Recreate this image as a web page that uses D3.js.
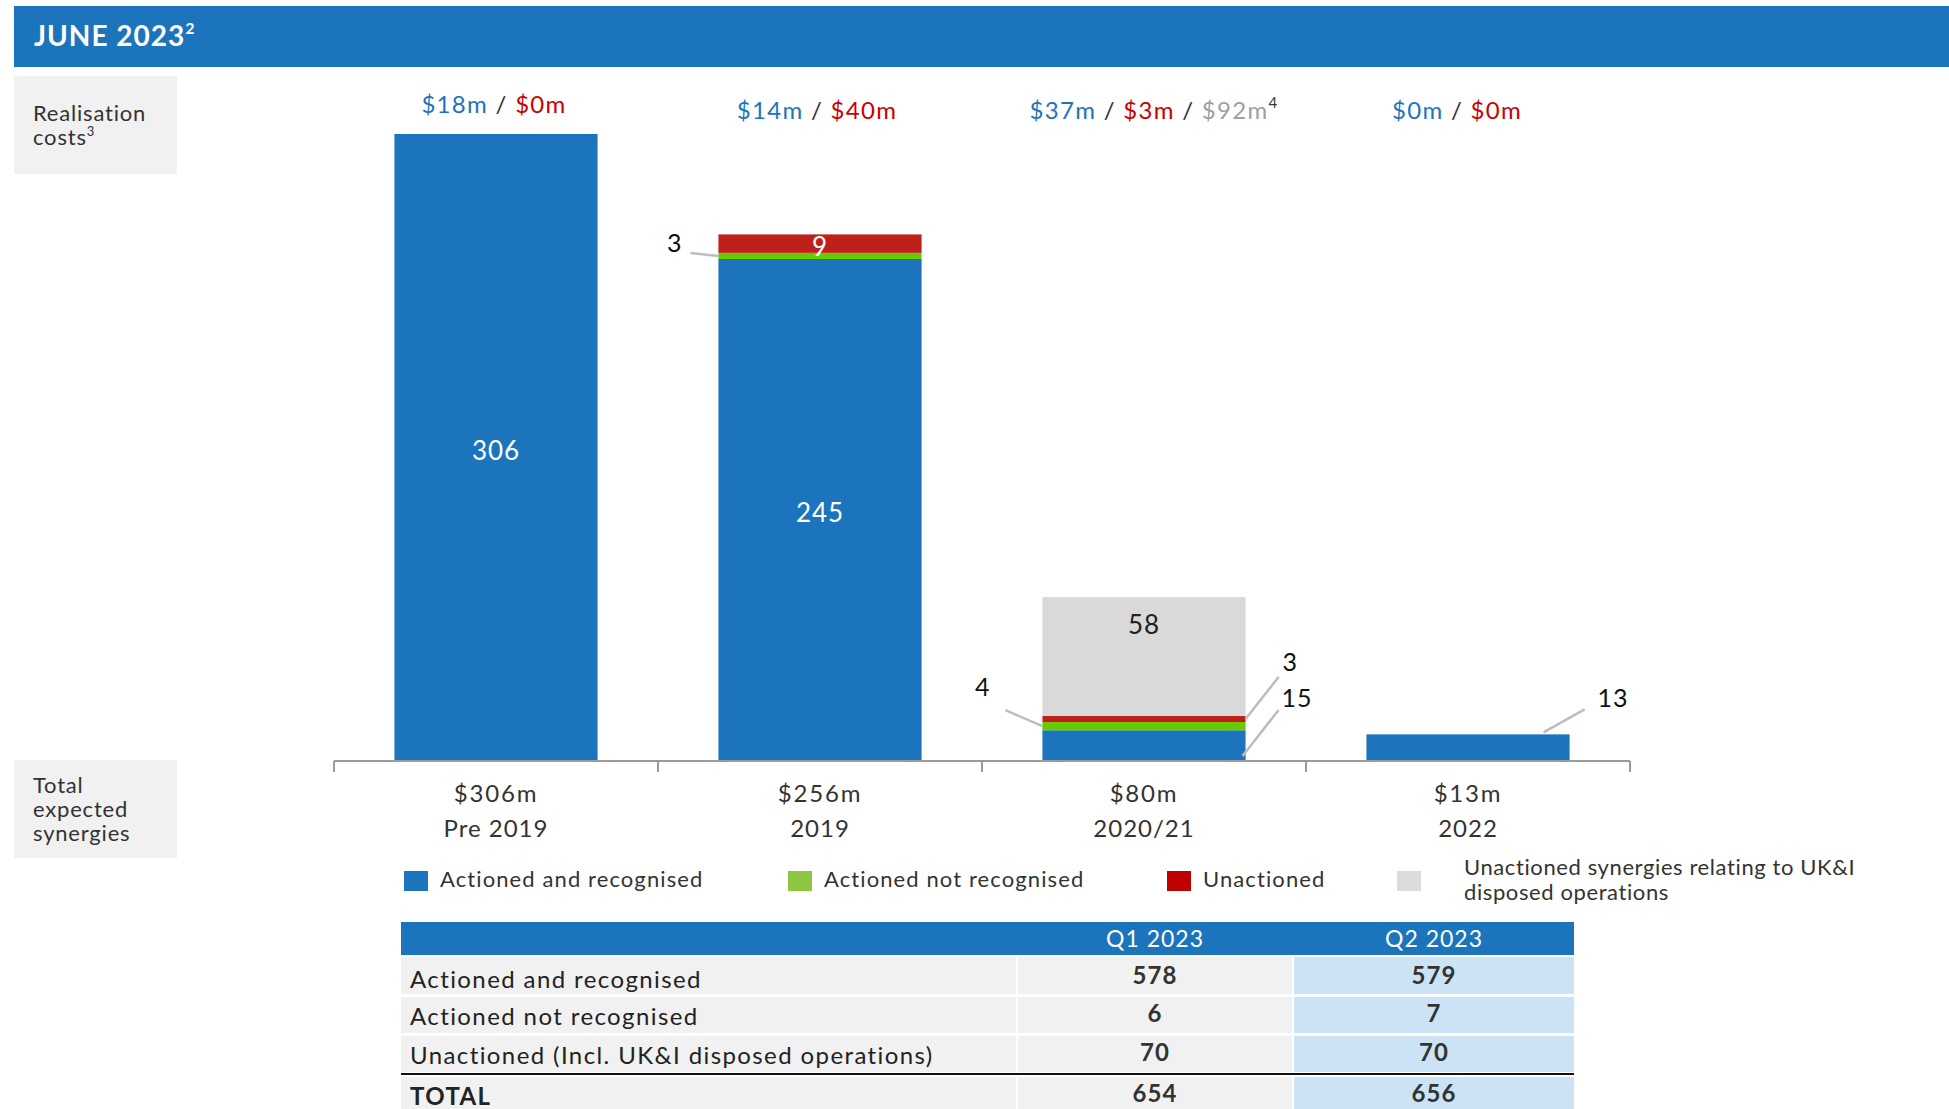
<!DOCTYPE html>
<html>
<head>
<meta charset="utf-8">
<script src="https://cdn.jsdelivr.net/npm/d3@7"></script>
<style>
  body { margin: 0; background: #fff; }
  svg { display: block; font-family: Lato, "Open Sans", sans-serif; }
</style>
</head>
<body>
<svg id="chart" width="1949" height="1109"></svg>
<script>
// Synergy delivery by acquisition vintage ($m)
const categories = ["Pre 2019", "2019", "2020/21", "2022"];
const totalLabels = ["$306m", "$256m", "$80m", "$13m"];
const actionedRecognised = [306, 245, 15, 13];
const actionedNotRecognised = [0, 3, 4, 0];
const unactioned = [0, 9, 3, 0];
const unactionedDisposed = [0, 0, 58, 0];

// Realisation costs shown above each bar
const costsActioned = ["$18m", "$14m", "$37m", "$0m"];
const costsUnactioned = ["$0m", "$40m", "$3m", "$0m"];
const costsDisposed = [null, null, "$92m", null];

// Summary table
const quarters = ["Q1 2023", "Q2 2023"];
const tableRows = ["Actioned and recognised", "Actioned not recognised", "Unactioned (Incl. UK&I disposed operations)", "TOTAL"];
const q1Values = [578, 6, 70, 654];
const q2Values = [579, 7, 70, 656];

const seriesKeys = ["recognised", "notRecognised", "unactioned", "disposed"];
const seriesNames = ["Actioned and recognised", "Actioned not recognised", "Unactioned", "Unactioned synergies relating to UK&I disposed operations"];
const barColors = { recognised: "#1c75bc", notRecognised: "#66cc00", unactioned: "#c0201a", disposed: "#d9d9d9" };
const legendColors = ["#1c75bc", "#8dc63f", "#c00000", "#dcdcdc"];

const BLUE = "#1c75bc", RED = "#cc0000", GREY_TXT = "#a0a0a0", DARK = "#333";

const rows = categories.map((c, i) => ({
  category: c,
  recognised: actionedRecognised[i],
  notRecognised: actionedNotRecognised[i],
  unactioned: unactioned[i],
  disposed: unactionedDisposed[i]
}));

const svg = d3.select("#chart");

// Header band
svg.append("rect").attr("x", 14).attr("y", 6).attr("width", 1935).attr("height", 61).attr("fill", BLUE);
const title = svg.append("text").attr("x", 34).attr("y", 46).attr("fill", "#fff")
  .attr("font-size", 28).attr("font-weight", 700).attr("letter-spacing", 1);
title.append("tspan").text("JUNE 2023");
title.append("tspan").attr("font-size", 16).attr("dy", -12).text("2");

// Side boxes
function sideBox(y, lines, sup) {
  svg.append("rect").attr("x", 14).attr("y", y).attr("width", 163).attr("height", 98).attr("fill", "#f1f1f1");
  lines.forEach((l, i) => {
    const t = svg.append("text").attr("x", 33).attr("y", y + 45 + i * 24 - (lines.length - 2) * 12)
      .attr("font-size", 22).attr("letter-spacing", 0.8).attr("fill", DARK);
    t.append("tspan").text(l);
    if (sup && i === lines.length - 1) t.append("tspan").attr("font-size", 13).attr("dy", -9).text(sup);
  });
}
sideBox(76, ["Realisation", "costs"], "3");
sideBox(760, ["Total", "expected", "synergies"], null);

// Scales
const x = d3.scaleBand().domain(categories).range([334, 1630]).paddingInner(0.373).paddingOuter(0.1865);
const y = d3.scaleLinear().domain([0, 306]).range([761, 134]);

const stacked = d3.stack().keys(seriesKeys)(rows);

// Bars
svg.append("g").selectAll("g").data(stacked).join("g")
  .attr("fill", d => barColors[d.key])
  .selectAll("rect").data(d => d).join("rect")
  .attr("x", d => x(d.data.category))
  .attr("width", x.bandwidth())
  .attr("y", d => y(d[1]))
  .attr("height", d => y(d[0]) - y(d[1]));

// Axis line with boundary ticks
const boundaries = categories.map(c => x(c) + x.bandwidth() / 2 - x.step() / 2).concat([x.range()[1]]);
const axisG = svg.append("g").attr("stroke", "#9a9a9a").attr("stroke-width", 2);
axisG.append("line").attr("x1", x.range()[0]).attr("x2", x.range()[1]).attr("y1", y(0)).attr("y2", y(0));
axisG.selectAll("line.tick").data(boundaries).join("line").attr("class", "tick")
  .attr("x1", d => d).attr("x2", d => d).attr("y1", y(0)).attr("y2", y(0) + 11);

// Category labels
const cx = c => x(c) + x.bandwidth() / 2;
categories.forEach((c, i) => {
  svg.append("text").attr("x", cx(c)).attr("y", y(0) + 41).attr("text-anchor", "middle")
    .attr("font-size", 24).attr("letter-spacing", 1.8).attr("fill", DARK).text(totalLabels[i]);
  svg.append("text").attr("x", cx(c)).attr("y", y(0) + 76).attr("text-anchor", "middle")
    .attr("font-size", 24).attr("letter-spacing", 1).attr("fill", DARK).text(c);
});

// In-bar value labels
const inside = [
  { i: 0, key: "recognised", color: "#fff", pos: "mid" },
  { i: 1, key: "recognised", color: "#fff", pos: "mid" },
  { i: 1, key: "unactioned", color: "#fff", pos: "mid" },
  { i: 2, key: "disposed", color: "#222", pos: "top" }
];
inside.forEach(d => {
  const seg = stacked.find(s => s.key === d.key)[d.i];
  const yy = d.pos === "mid" ? (y(seg[0]) + y(seg[1])) / 2 + 12 : y(seg[1]) + 37;
  svg.append("text").attr("x", cx(categories[d.i])).attr("y", yy).attr("text-anchor", "middle")
    .attr("font-size", 26).attr("letter-spacing", 1).attr("fill", d.color).text(seg[1] - seg[0]);
});

// Callouts for thin segments: leader end (lx, ly) and text baseline (tx, ty) relative to anchor point
const callouts = [
  { i: 1, key: "notRecognised", side: "left", at: "mid", lx: -28, ly: -3, tx: -36, ty: -4 },
  { i: 2, key: "notRecognised", side: "left", at: "mid", lx: -37, ly: -16, tx: -52, ty: -30 },
  { i: 2, key: "unactioned", side: "right", at: "mid", lx: 33, ly: -42, tx: 37, ty: -48 },
  { i: 2, key: "recognised", side: "right", at: "bottom", lx: 36, ly: -46, tx: 39, ty: -49 },
  { i: 3, key: "recognised", side: "right", at: "top", lx: 41, ly: -23, tx: 54, ty: -25 }
];
const lead = svg.append("g").attr("stroke", "#bdbdbd").attr("stroke-width", 2.5);
callouts.forEach(d => {
  const seg = stacked.find(s => s.key === d.key)[d.i];
  const c = categories[d.i];
  let px = d.side === "left" ? x(c) : x(c) + x.bandwidth();
  let py = d.at === "mid" ? (y(seg[0]) + y(seg[1])) / 2 : d.at === "top" ? y(seg[1]) - 2 : y(seg[0]) - 5;
  if (d.at === "bottom") px -= 3;
  if (d.at === "top") px -= 26;
  lead.append("line").attr("x1", px).attr("y1", py).attr("x2", px + d.lx).attr("y2", py + d.ly);
  svg.append("text").attr("x", px + d.tx).attr("y", py + d.ty)
    .attr("text-anchor", d.side === "left" ? "end" : "start")
    .attr("font-size", 25).attr("letter-spacing", 1).attr("fill", "#111").text(seg[1] - seg[0]);
});

// Realisation costs above bars
const costShift = [-2, -3, 10, -11];
categories.forEach((c, i) => {
  const t = svg.append("text").attr("x", cx(c) + costShift[i]).attr("y", i === 0 ? 113 : 119)
    .attr("text-anchor", "middle").attr("font-size", 24).attr("letter-spacing", 1.3);
  t.append("tspan").attr("fill", BLUE).text(costsActioned[i]);
  t.append("tspan").attr("fill", DARK).text(" / ");
  t.append("tspan").attr("fill", RED).text(costsUnactioned[i]);
  if (costsDisposed[i]) {
    t.append("tspan").attr("fill", DARK).text(" / ");
    t.append("tspan").attr("fill", GREY_TXT).text(costsDisposed[i]);
    t.append("tspan").attr("fill", DARK).attr("font-size", 15).attr("dy", -11).text("4");
  }
});

// Legend
const legendX = [404, 788, 1167, 1397];
seriesNames.forEach((n, i) => {
  svg.append("rect").attr("x", legendX[i]).attr("y", 871).attr("width", 24).attr("height", 20)
    .attr("fill", legendColors[i]);
  if (i < 3) {
    svg.append("text").attr("x", legendX[i] + 36).attr("y", 887).attr("font-size", 22)
      .attr("letter-spacing", 1.1).attr("fill", DARK).text(n);
  } else {
    const t = svg.append("text").attr("font-size", 22).attr("letter-spacing", 0.6).attr("fill", DARK);
    t.append("tspan").attr("x", legendX[i] + 67).attr("y", 875).text("Unactioned synergies relating to UK&I");
    t.append("tspan").attr("x", legendX[i] + 67).attr("y", 900).text("disposed operations");
  }
});

// Summary table
const colX = [401, 1018, 1294], colW = [615, 274, 280];
const tbl = svg.append("g");
tbl.append("rect").attr("x", 401).attr("y", 922).attr("width", 1173).attr("height", 33).attr("fill", BLUE);
quarters.forEach((q, j) => {
  tbl.append("text").attr("x", colX[j + 1] + colW[j + 1] / 2).attr("y", 947).attr("text-anchor", "middle")
    .attr("font-size", 23).attr("letter-spacing", 1).attr("fill", "#fff").text(q);
});
const rowY = [957, 997, 1036, 1077], rowH = [37, 36, 36, 36];
tableRows.forEach((r, k) => {
  colX.forEach((cxx, j) => {
    tbl.append("rect").attr("x", cxx).attr("y", rowY[k]).attr("width", colW[j]).attr("height", rowH[k])
      .attr("fill", j === 2 ? "#cce3f6" : "#f1f1f1");
  });
  const bold = k === 3;
  tbl.append("text").attr("x", 410).attr("y", rowY[k] + (k === 0 ? 31 : 28)).attr("font-size", 24)
    .attr("letter-spacing", 1.4).attr("font-weight", bold ? 700 : 400).attr("fill", "#222").text(r);
  [q1Values[k], q2Values[k]].forEach((v, j) => {
    tbl.append("text").attr("x", colX[j + 1] + colW[j + 1] / 2).attr("y", rowY[k] + (k === 0 ? 27 : 25))
      .attr("text-anchor", "middle").attr("font-size", 24).attr("letter-spacing", 1)
      .attr("font-weight", 700).attr("fill", "#333").text(v);
  });
});
tbl.append("line").attr("x1", 401).attr("x2", 1574).attr("y1", 1074).attr("y2", 1074)
  .attr("stroke", "#111").attr("stroke-width", 2);
</script>
</body>
</html>
